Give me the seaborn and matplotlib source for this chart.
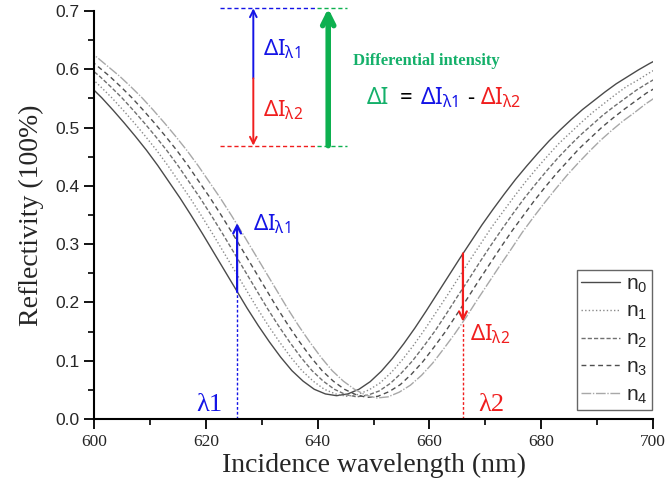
import numpy as np
import pandas as pd
import matplotlib
matplotlib.use("Agg")
import matplotlib.pyplot as plt
import seaborn as sns

# ---------------- data ----------------
curve_names = ["n0", "n1", "n2", "n3", "n4"]
# dip position shift of each curve relative to n0 (nm)
dip_shift = [0.0, 1.8, 3.6, 5.4, 7.2]
# wavelength grid of the n0 curve (nm)
base_wavelength = [589.4, 591.4, 593.4, 595.4, 597.4, 599.4, 601.4, 603.4, 605.4, 607.4,
                   609.4, 611.4, 613.4, 615.4, 617.4, 619.4, 621.4, 623.4, 625.4, 627.4,
                   629.4, 631.4, 633.4, 635.4, 637.4, 639.4, 641.4, 643.4, 645.4, 647.4,
                   649.4, 651.4, 653.4, 655.4, 657.4, 659.4, 661.4, 663.4, 665.4, 667.4,
                   669.4, 671.4, 673.4, 675.4, 677.4, 679.4, 681.4, 683.4, 685.4, 687.4,
                   689.4, 691.4, 693.4, 695.4, 697.4, 699.4, 701.4]
left_side = [.648, .635, .620, .604, .588, .570, .551, .530, .508, .485, .461, .435, .407, .379,
             .349, .318, .286, .254, .222, .190, .160, .132, .106, .083, .065, .051]
n0 = left_side + [.043, .040,
      .043, .051, .064, .082, .104, .129, .156, .185, .215, .245, .275, .304, .333, .360, .386,
      .411, .434, .456, .477, .496, .514, .531, .546, .561, .575, .587, .599, .610, .620]
n1 = left_side + [.043, .039,
      .042, .050, .062, .080, .102, .127, .154, .183, .212, .242, .272, .301, .330, .356, .382,
      .407, .430, .452, .473, .491, .509, .526, .541, .556, .570, .581, .593, .604, .614]
n2 = left_side + [.042, .038,
      .041, .048, .061, .079, .100, .125, .151, .180, .210, .239, .269, .298, .326, .353, .379,
      .403, .426, .448, .468, .487, .504, .521, .536, .550, .564, .576, .587, .598, .608]
n3 = left_side + [.042, .037,
      .039, .047, .059, .077, .098, .123, .149, .178, .207, .237, .266, .295, .323, .349, .375,
      .399, .422, .443, .464, .482, .500, .516, .531, .545, .559, .570, .581, .592, .601]
n4 = left_side + [.041, .036,
      .038, .046, .058, .075, .096, .121, .147, .175, .205, .234, .263, .291, .320, .346, .371,
      .395, .418, .439, .459, .478, .495, .511, .525, .540, .553, .564, .576, .586, .595]
series = [n0, n1, n2, n3, n4]

# annotation values
lambda1, lambda2 = 625.6, 666.0
l1_low, l1_high = 0.218, 0.336      # arrow at lambda1 (n0 -> n4)
l2_high, l2_low = 0.284, 0.167      # arrow at lambda2 (n0 -> n4)
inset_top, inset_mid, inset_bot = 0.7046, 0.5845, 0.469
inset_x0, inset_xsplit, inset_x1 = 622.5, 639.9, 645.3
inset_arrow_x, big_arrow_x = 628.5, 641.9

# ---------------- figure ----------------
sns.set_style("ticks")
plt.rcParams["font.family"] = ["Liberation Serif", "DejaVu Serif"]
plt.rcParams["mathtext.default"] = "regular"

BLUE = "#1414e6"
RED = "#f01e1e"
GREEN = "#0db04f"
GREEN_T = "#14b06a"

fig = plt.figure(figsize=(6.71, 4.87), dpi=100)
ax = fig.add_axes([94 / 671, 1 - 419 / 487, (653 - 94) / 671, (419 - 11) / 487])

frames = []
for name, shift, vals in zip(curve_names, dip_shift, series):
    frames.append(pd.DataFrame({"wavelength": np.array(base_wavelength) + shift,
                                "reflectivity": vals, "curve": name}))
df = pd.concat(frames, ignore_index=True)

palette = {"n0": "#4a4a4a", "n1": "#8a8a8a", "n2": "#707070", "n3": "#505050", "n4": "#a8a8a8"}
dashes = {"n0": "", "n1": (1, 1.6), "n2": (3, 1.5), "n3": (3.5, 2.5), "n4": (7, 1.2, 1, 1.2)}
sns.lineplot(data=df, x="wavelength", y="reflectivity", hue="curve", style="curve",
             palette=palette, dashes=dashes, estimator=None, sort=False, lw=1.0, ax=ax)

ax.set_xlim(600, 700)
ax.set_ylim(0, 0.7)
ax.set_xticks(np.arange(600, 701, 20))
ax.set_xticks(np.arange(600, 701, 10), minor=True)
ax.set_yticks(np.arange(0, 0.71, 0.1))
ax.set_yticks(np.arange(0, 0.71, 0.05), minor=True)
ax.yaxis.set_major_formatter(matplotlib.ticker.FormatStrFormatter("%.1f"))
ax.tick_params(which="major", direction="out", length=7, width=1.3, color="black")
ax.tick_params(which="minor", direction="out", length=4, width=1.2, color="black")
ax.tick_params(axis="x", labelfontfamily="Liberation Serif", labelsize=12.5)
ax.tick_params(axis="y", labelfontfamily="Liberation Sans", labelsize=12.5)
sns.despine(ax=ax)
for s in ["left", "bottom"]:
    ax.spines[s].set_linewidth(1.5)
    ax.spines[s].set_color("black")

ax.set_xlabel("Incidence wavelength (nm)", fontsize=20, labelpad=2)
ax.set_ylabel("Reflectivity (100%)", fontsize=20, labelpad=8)

handles, _ = ax.get_legend_handles_labels()
leg = ax.legend(handles, [r"$\mathregular{n_%d}$" % i for i in range(5)],
                loc="lower right", bbox_to_anchor=(0.998, 0.022),
                prop={"family": "Liberation Sans", "size": 15}, frameon=True,
                fancybox=False, edgecolor="#666666", framealpha=1,
                handlelength=1.85, handletextpad=0.3, labelspacing=0.36, borderpad=0.2,
                borderaxespad=0)
leg.get_frame().set_linewidth(1.0)

sans = ["Noto Sans", "DejaVu Sans"]

# lambda markers
ax.plot([lambda1, lambda1], [0, l1_low], ls=(0, (2, 1.5)), color=BLUE, lw=1)
ax.plot([lambda2, lambda2], [0, l2_low], ls=(0, (2, 1.5)), color=RED, lw=1)
ax.annotate("", xy=(lambda1, l1_high), xytext=(lambda1, l1_low),
            arrowprops=dict(arrowstyle="->", color=BLUE, lw=1.6, shrinkA=0, shrinkB=0,
                            mutation_scale=14))
ax.annotate("", xy=(lambda2, l2_low), xytext=(lambda2, l2_high),
            arrowprops=dict(arrowstyle="->", color=RED, lw=1.6, shrinkA=0, shrinkB=0,
                            mutation_scale=14))
ax.text(628.4, 0.324, "$\\mathregular{ΔI_{λ1}}$", color=BLUE, fontsize=16, family=sans, va="baseline")
ax.text(667.3, 0.1355, "$\\mathregular{ΔI_{λ2}}$", color=RED, fontsize=16, family=sans, va="baseline")
ax.text(618.3, 0.013, "λ1", color=BLUE, fontsize=19, va="baseline")
ax.text(668.7, 0.013, "λ2", color=RED, fontsize=19, va="baseline")

# inset at the top
ax.plot([inset_x0, inset_xsplit], [inset_top] * 2, ls=(0, (3, 2)), color=BLUE, lw=1, clip_on=False)
ax.plot([inset_xsplit, inset_x1], [inset_top] * 2, ls=(0, (3, 2)), color=GREEN, lw=1, clip_on=False)
ax.plot([inset_x0, inset_xsplit], [inset_bot] * 2, ls=(0, (3, 2)), color=RED, lw=1, clip_on=False)
ax.plot([inset_xsplit, inset_x1], [inset_bot] * 2, ls=(0, (3, 2)), color=GREEN, lw=1, clip_on=False)
ax.annotate("", xy=(inset_arrow_x, inset_top), xytext=(inset_arrow_x, inset_mid),
            annotation_clip=False,
            arrowprops=dict(arrowstyle="->", color=BLUE, lw=1.4, shrinkA=0, shrinkB=0,
                            mutation_scale=12))
ax.annotate("", xy=(inset_arrow_x, inset_bot), xytext=(inset_arrow_x, inset_mid),
            annotation_clip=False,
            arrowprops=dict(arrowstyle="->", color=RED, lw=1.4, shrinkA=0, shrinkB=0,
                            mutation_scale=12))
ax.annotate("", xy=(big_arrow_x, inset_top), xytext=(big_arrow_x, inset_bot),
            annotation_clip=False,
            arrowprops=dict(arrowstyle="->", color=GREEN, lw=4, shrinkA=0, shrinkB=0,
                            mutation_scale=20))
ax.text(630.2, 0.624, "$\\mathregular{ΔI_{λ1}}$", color=BLUE, fontsize=16, family=sans, va="baseline")
ax.text(630.2, 0.5186, "$\\mathregular{ΔI_{λ2}}$", color=RED, fontsize=16, family=sans, va="baseline")
ax.text(659.5, 0.607, "Differential intensity", color=GREEN_T, fontsize=12, ha="center",
        va="baseline", fontweight="bold")
ax.text(648.8, 0.540, "ΔI", color=GREEN_T, fontsize=16.5, family=sans, va="baseline")
ax.text(654.7, 0.540, "=", color="black", fontsize=16, family=sans, va="baseline")
ax.text(658.3, 0.540, "$\\mathregular{ΔI_{λ1}}$", color=BLUE, fontsize=16.5, family=sans, va="baseline")
ax.text(666.7, 0.540, "-", color="black", fontsize=16, family=sans, va="baseline")
ax.text(669.1, 0.540, "$\\mathregular{ΔI_{λ2}}$", color=RED, fontsize=16.5, family=sans, va="baseline")

fig.savefig("out.png", dpi=100)
